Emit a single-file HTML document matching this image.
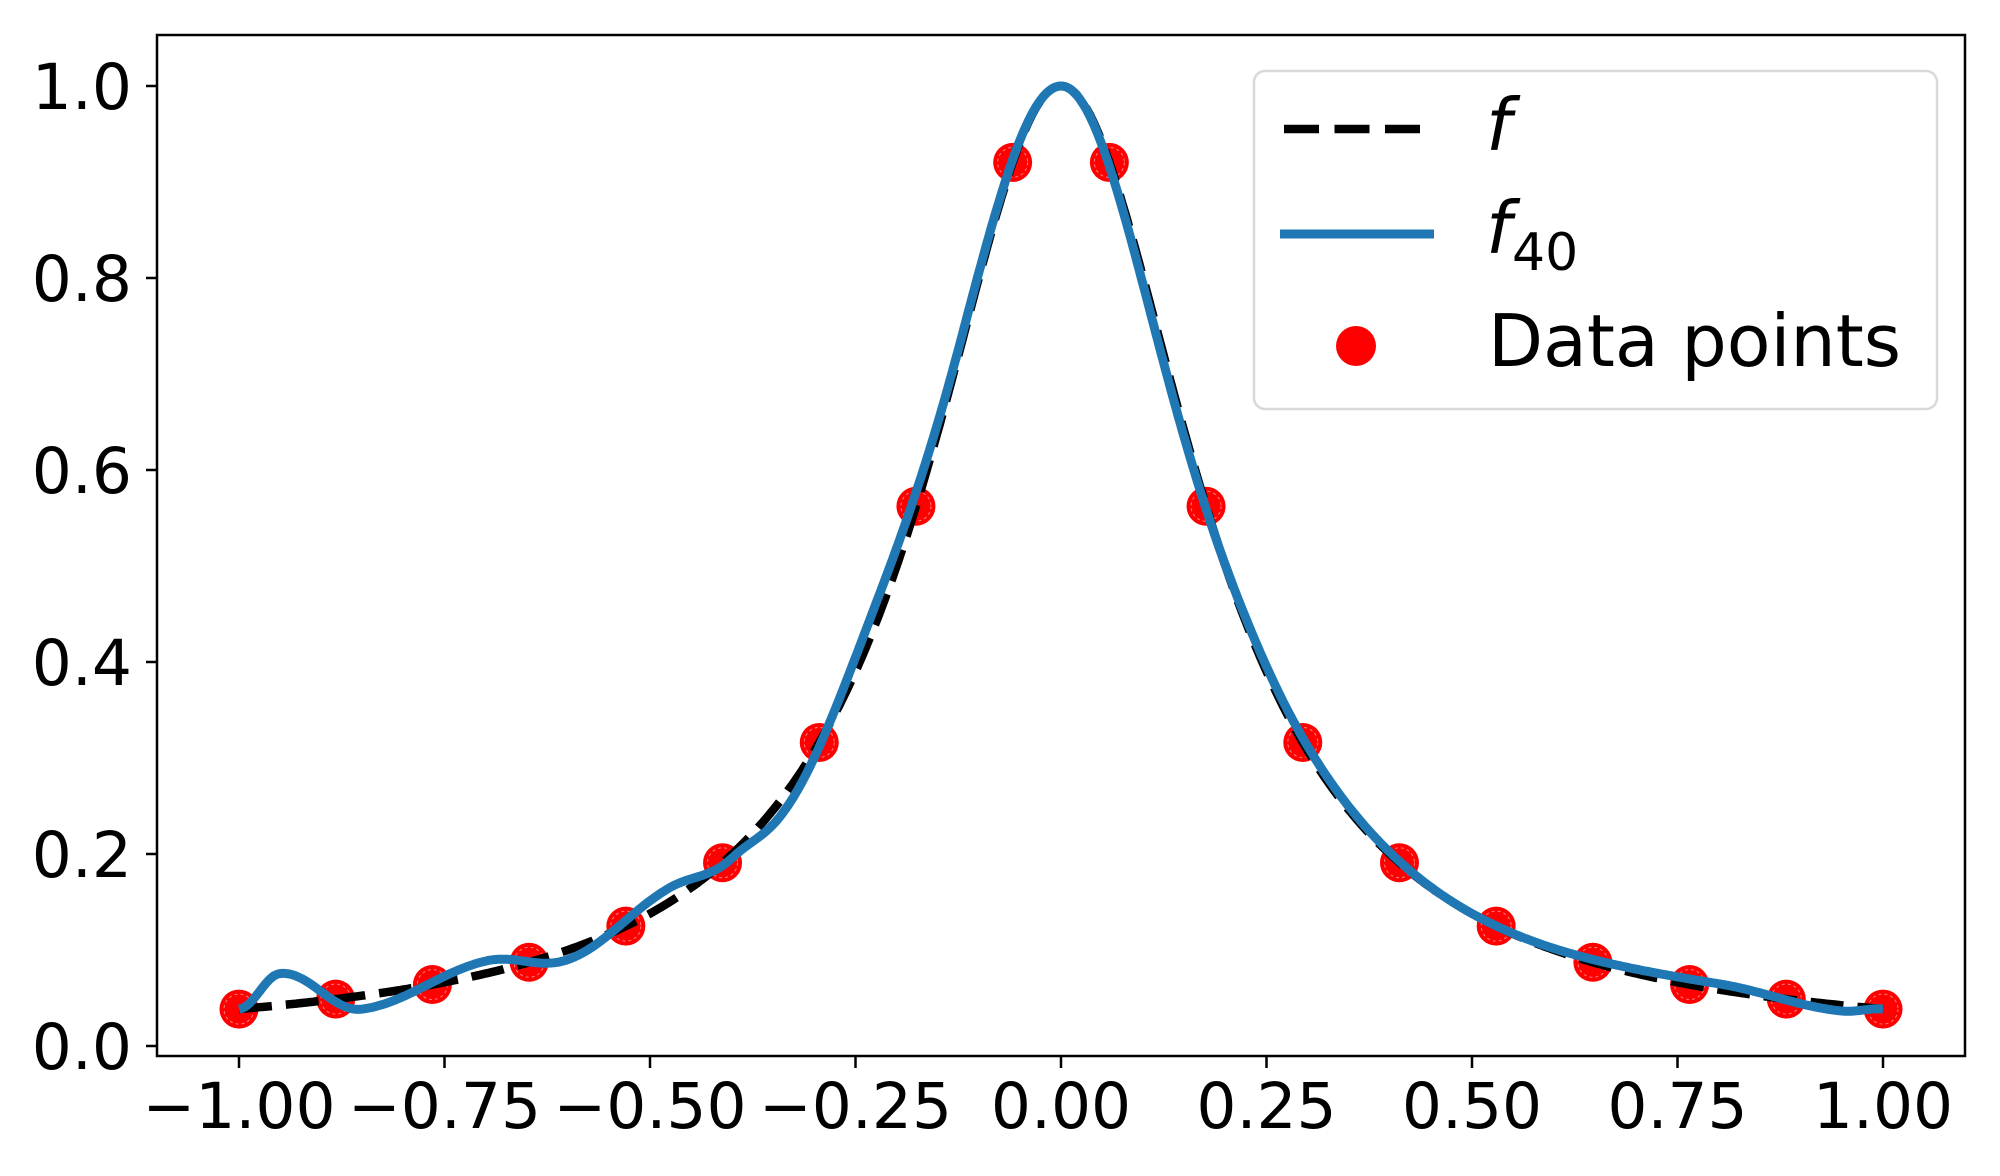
<!DOCTYPE html>
<html><head><meta charset="utf-8"><style>
html,body{margin:0;padding:0;background:#fff;}
svg{display:block;}
text{font-family:"DejaVu Sans","Liberation Sans",sans-serif;fill:#000;}
</style></head><body>
<svg id="s" width="2000" height="1176" viewBox="0 0 2000 1176" xmlns="http://www.w3.org/2000/svg">
<g id="pts"></g>
<path id="fd" fill="none" stroke="#000" stroke-width="8.5" stroke-dasharray="33 14"/>
<path id="fb" fill="none" stroke="#1f77b4" stroke-width="9" stroke-linejoin="round" stroke-linecap="butt"/>
<rect x="157" y="35" width="1808" height="1021" fill="none" stroke="#000" stroke-width="2.5"/>
<g id="ticks" stroke="#000" stroke-width="2.5"></g>
<g id="labels" font-size="63"></g>
<rect x="1254" y="71" width="683" height="338" rx="11" fill="#fff" fill-opacity="0.85" stroke="#d8d8d8" stroke-width="2.5"/>
<line x1="1284" y1="129" x2="1428" y2="129" stroke="#000" stroke-width="8.5" stroke-dasharray="35 15.5"/>
<line x1="1280" y1="234" x2="1434" y2="234" stroke="#1f77b4" stroke-width="9"/>
<circle cx="1356" cy="346" r="20" fill="#f00"/>
<text x="1486" y="150" font-size="72" font-style="italic">f</text>
<text x="1486" y="253" font-size="72" font-style="italic">f</text>
<text x="1512" y="270" font-size="52">40</text>
<text x="1488" y="366" font-size="72" textLength="413" lengthAdjust="spacingAndGlyphs">Data points</text>
</svg>
<script>
var X=function(x){return 1061+822*x;},Y=function(y){return 1046-960*y;};
function f(x){return 1/(1+25*x*x);}
var K=[[-1,0],[-0.95,0.033],[-0.85,-0.014],[-0.7,0.013],[-0.6,-0.01],[-0.48,0.015],[-0.4,-0.004],[-0.34,-0.016],[-0.22,0.02],[-0.12,0.006],[0,0],[0.12,-0.008],[0.25,0.005],[0.5,0],[0.8,0.006],[0.95,-0.006],[1,0]];
function d(x){for(var i=0;i<K.length-1;i++){if(x<=K[i+1][0]){var t=(x-K[i][0])/(K[i+1][0]-K[i][0]);var s=(1-Math.cos(Math.PI*t))/2;return K[i][1]+(K[i+1][1]-K[i][1])*s;}}return 0;}
var a="",b="";
for(var i=0;i<=800;i++){var x=-1+2*i/800;a+=(i?"L":"M")+X(x).toFixed(1)+" "+Y(f(x)).toFixed(1);b+=(i?"L":"M")+X(x).toFixed(1)+" "+Y(f(x)+d(x)).toFixed(1);}
document.getElementById("fd").setAttribute("d",a);
document.getElementById("fb").setAttribute("d",b);
var P="";
for(var i=0;i<18;i++){var x=-1+2*i/17;P+='<circle cx="'+X(x)+'" cy="'+Y(f(x))+'" r="19.5" fill="#f00"/><circle cx="'+X(x)+'" cy="'+Y(f(x))+'" r="15" fill="none" stroke="#ff8080" stroke-width="1" stroke-dasharray="3 3"/>';}
document.getElementById("pts").innerHTML=P;
var T="",L="";
for(var i=0;i<=8;i++){var v=-1+0.25*i,px=X(v);T+='<line x1="'+px+'" y1="1056" x2="'+px+'" y2="1068"/>';
var s=(v<0?"\u2212":"")+Math.abs(v).toFixed(2);L+='<text x="'+px+'" y="1128" text-anchor="middle">'+s+'</text>';}
for(var i=0;i<=5;i++){var v=0.2*i,py=Y(v);T+='<line x1="146" y1="'+py+'" x2="157" y2="'+py+'"/>';
L+='<text x="132" y="'+(py+23)+'" text-anchor="end">'+v.toFixed(1)+'</text>';}
document.getElementById("ticks").innerHTML=T;
document.getElementById("labels").innerHTML=L;
</script>
</body></html>
